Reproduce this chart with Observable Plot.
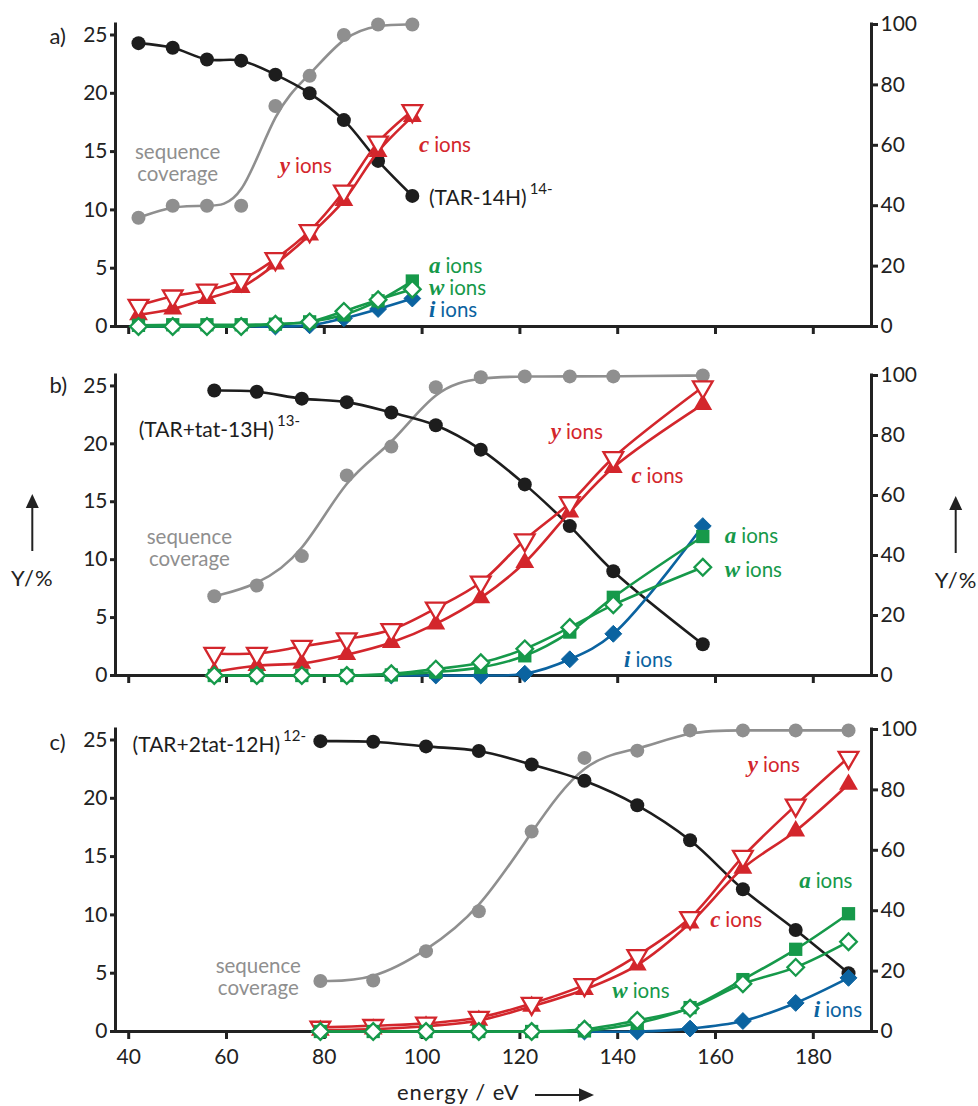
<!DOCTYPE html>
<html><head><meta charset="utf-8">
<script src="https://cdn.jsdelivr.net/npm/d3@7"></script>
<script src="https://cdn.jsdelivr.net/npm/@observablehq/plot@0.6"></script>
<style>
html,body{margin:0;padding:0;background:#fff;overflow:hidden}
#wrap{position:relative;width:978px;height:1106px;font-family:Lato,sans-serif;color:#222}
.panel{position:absolute;left:0}
#ov{position:absolute;left:0;top:0;pointer-events:none}
#ov text{font-family:Lato,sans-serif;font-size:22px;fill:#222}
</style></head><body>
<div id="wrap">
<div class="panel" id="pa" style="top:0"></div>
<div class="panel" id="pb" style="top:350px"></div>
<div class="panel" id="pc" style="top:700px"></div>
<svg id="ov" width="978" height="1106">
  <line x1="32.3" y1="551" x2="32.3" y2="505" stroke="#222" stroke-width="2"/>
  <polygon points="32.3,494 25.8,508 38.8,508" fill="#222"/>
  <text x="32.3" y="586" text-anchor="middle" letter-spacing="1">Y/%</text>
  <line x1="955.7" y1="553" x2="955.7" y2="507" stroke="#222" stroke-width="2"/>
  <polygon points="955.7,496 949.2,510 962.2,510" fill="#222"/>
  <text x="956" y="588" text-anchor="middle" letter-spacing="1">Y/%</text>
  <text x="397" y="1100" text-anchor="start" letter-spacing="1">energy / eV</text>
  <line x1="535" y1="1095" x2="582" y2="1095" stroke="#222" stroke-width="2"/>
  <polygon points="594,1095 579,1088.3 579,1101.7" fill="#222"/>
</svg>
</div>
<script>
// ---------- tick labels ----------
const xTicks = [40, 60, 80, 100, 120, 140, 160, 180];
const leftTicks = [0, 5, 10, 15, 20, 25];
const rightTicks = [0, 20, 40, 60, 80, 100];

// ---------- panel a: (TAR-14H)14- ----------
const energyA    = [42, 49, 56, 63, 70, 77, 84, 91, 98];
const precursorA = [24.3, 23.9, 22.9, 22.8, 21.6, 20.0, 17.7, 14.2, 11.2];
const coverageA  = [36, 40, 40, 40, 73, 83, 96.5, 100, 100];
const yIonsA     = [1.8, 2.6, 3.1, 4.0, 5.8, 8.2, 11.6, 15.8, 18.5];
const cIonsA     = [1.0, 1.5, 2.4, 3.35, 5.35, 7.85, 10.8, 15.0, 18.0];
const aIonsA     = [0.1, 0.15, 0.15, 0.15, 0.2, 0.4, 1.0, 2.2, 3.9];
const wIonsA     = [0, 0, 0, 0, 0.2, 0.4, 1.3, 2.3, 3.2];
const iIonsA     = [0, 0, 0, 0, 0, 0.1, 0.7, 1.5, 2.4];

// ---------- panel b: (TAR+tat-13H)13- ----------
const energyB    = [57.5, 66.2, 75.4, 84.6, 93.7, 102.8, 112, 121, 130.2, 139.1, 157.4];
const precursorB = [24.6, 24.5, 23.9, 23.6, 22.7, 21.6, 19.5, 16.5, 12.9, 9.0, 2.7];
const coverageB  = [26.4, 30, 39.8, 66.7, 76.3, 96.1, 99.4, 99.7, 99.7, 99.7, 100];
const yIonsB     = [1.9, 1.9, 2.5, 3.15, 3.95, 5.8, 8.05, 11.7, 14.9, 18.8, 24.9];
const cIonsB     = [0.3, 0.85, 1.05, 1.8, 2.85, 4.45, 6.7, 9.75, 14.1, 17.95, 23.4];
const aIonsB     = [0, 0, 0, 0, 0.05, 0.3, 0.7, 1.7, 3.75, 6.75, 12.0];
const wIonsB     = [0, 0, 0, 0, 0.15, 0.55, 1.1, 2.3, 4.15, 6.1, 9.35];
const iIonsB     = [null, null, null, null, 0, 0, 0, 0.15, 1.4, 3.6, 12.9];

// ---------- panel c: (TAR+2tat-12H)12- ----------
const energyC    = [79.2, 90, 100.8, 111.6, 122.4, 133.2, 144, 154.8, 165.6, 176.4, 187.2];
const precursorC = [24.9, 24.85, 24.45, 24.05, 22.9, 21.5, 19.4, 16.4, 12.2, 8.7, 5.0];
const coverageC  = [16.7, 16.9, 26.6, 39.8, 66.2, 90.6, 93.0, 99.7, 99.7, 99.7, 99.7];
const yIonsC     = [0.35, 0.5, 0.7, 1.2, 2.4, 4.0, 6.5, 9.75, 15.0, 19.4, 23.5];
const cIonsC     = [0.1, 0.2, 0.45, 0.95, 2.15, 3.6, 5.7, 9.3, 14.0, 17.2, 21.2];
const aIonsC     = [0, 0, 0, 0, 0, 0.05, 0.7, 2.05, 4.45, 7.05, 10.1];
const wIonsC     = [0, 0, 0, 0, 0, 0.2, 0.95, 2.0, 4.1, 5.5, 7.7];
const iIonsC     = [null, null, null, null, null, 0, 0, 0.25, 0.9, 2.45, 4.6];

// ---------- annotations (anchors in data units: eV, Y/%) ----------
const notesA = {
  letter: "a)",
  coverage: {x: 50, y: 14.0},
  precursor: {x: 101.4, y: 11.1, text: "(TAR-14H)", sup: "14-"},
  ions: [{k: "y", x: 70.9, y: 13.65}, {k: "c", x: 99.35, y: 15.45},
         {k: "a", x: 101.4, y: 5.07}, {k: "w", x: 101.4, y: 3.21}, {k: "i", x: 101.4, y: 1.35}]
};
const notesB = {
  letter: "b)",
  coverage: {x: 52.4, y: 11.0},
  precursor: {x: 42.05, y: 21.27, text: "(TAR+tat-13H)", sup: "13-"},
  ions: [{k: "y", x: 126.3, y: 20.97}, {k: "c", x: 142.8, y: 17.1},
         {k: "a", x: 161.9, y: 12.0}, {k: "w", x: 161.9, y: 9.05}, {k: "i", x: 141.3, y: 1.29}]
};
const notesC = {
  letter: "c)",
  coverage: {x: 66.5, y: 4.65},
  precursor: {x: 40.8, y: 24.63, text: "(TAR+2tat-12H)", sup: "12-"},
  ions: [{k: "y", x: 166.6, y: 22.77}, {k: "c", x: 158.9, y: 9.5},
         {k: "a", x: 177.1, y: 12.78}, {k: "w", x: 138.9, y: 3.36}, {k: "i", x: 180.1, y: 1.80}]
};

// ---------- chart ----------
const Y_TOP = 25.9;               // left axis top (Y/%)
const K = Y_TOP / 100;            // right axis (sequence coverage %) -> left units
const X_DOMAIN = [37.3, 191.9];
const COL = {gray: "#8f8f8f", black: "#1d1d1d", red: "#d3262c", green: "#16994a", blue: "#0b63a0", axis: "#222"};
const ionColor = {y: COL.red, c: COL.red, a: COL.green, w: COL.green, i: COL.blue};

function rows(energy, values, scale = 1) {
  return energy.map((e, i) => ({e, v: values[i] == null ? null : values[i] * scale})).filter(d => d.v != null);
}
const ctx = document.createElement("canvas").getContext("2d");
function textWidth(str, font) { ctx.font = font; return ctx.measureText(str).width; }

function ionLabel(lab) {
  const color = ionColor[lab.k];
  const w = textWidth(lab.k, "italic bold 23px 'Liberation Serif'");
  return [
    Plot.text([lab], {x: "x", y: "y", text: d => d.k, fontFamily: "Liberation Serif", fontWeight: "bold",
      fontStyle: "italic", fontSize: 23, fill: color, textAnchor: "start", lineAnchor: "bottom", dy: 6}),
    Plot.text([lab], {x: "x", y: "y", text: () => "ions", fontFamily: "Lato", fontSize: 20.5, fill: color,
      textAnchor: "start", lineAnchor: "bottom", dx: w + 5, dy: 6})
  ];
}

function panel(d, notes, opts) {
  const cov = rows(d.energy, d.coverage, K);
  const pre = rows(d.energy, d.precursor);
  const yI = rows(d.energy, d.y), cI = rows(d.energy, d.c);
  const aI = rows(d.energy, d.a), wI = rows(d.energy, d.w), iI = rows(d.energy, d.i);
  const line = (data, stroke, curve = "catmull-rom") =>
    Plot.line(data, {x: "e", y: "v", stroke, strokeWidth: 2.6, curve});
  const pw = textWidth(notes.precursor.text, "21px Lato");
  const marks = [
    Plot.ruleY([0], {stroke: COL.axis, strokeWidth: 3, strokeLinecap: "square"}),
    Plot.ruleX([X_DOMAIN[0]], {stroke: COL.axis, strokeWidth: 3, strokeLinecap: "square"}),
    Plot.ruleX([X_DOMAIN[1]], {stroke: COL.axis, strokeWidth: 3, strokeLinecap: "square"}),
    Plot.axisX(xTicks, {tickSize: 8, tickPadding: 10, strokeWidth: 3, fontSize: 21, label: null,
      tickFormat: opts.xLabels ? (v => String(v)) : (() => "")}),
    Plot.axisY(leftTicks, {anchor: "left", tickSize: 5, tickPadding: 3, strokeWidth: 3, fontSize: 21, label: null}),
    Plot.axisY(rightTicks.map(v => v * K), {anchor: "right", tickSize: 6, tickPadding: 3, strokeWidth: 3,
      fontSize: 21, label: null, tickFormat: v => String(Math.round(v / K))}),
    // sequence coverage (right axis)
    line(cov, COL.gray, "basis"),
    Plot.dot(cov, {x: "e", y: "v", r: 7, fill: COL.gray}),
    // precursor
    line(pre, COL.black),
    Plot.dot(pre, {x: "e", y: "v", r: 7, fill: COL.black}),
    // c and y ions
    line(cI, COL.red),
    Plot.dot(cI, {x: "e", y: "v", symbol: "triangle", r: 7, fill: COL.red}),
    line(yI, COL.red),
    Plot.dot(yI, {x: "e", y: "v", symbol: "triangle", rotate: 180, r: 7.3, fill: "white", stroke: COL.red, strokeWidth: 2.3}),
    // i ions
    line(iI, COL.blue),
    Plot.dot(iI, {x: "e", y: "v", symbol: "diamond2", r: 7.6, fill: COL.blue, stroke: COL.blue, strokeWidth: 1}),
    // a and w ions
    line(aI, COL.green),
    Plot.dot(aI, {x: "e", y: "v", symbol: "square", r: 7.5, fill: COL.green}),
    line(wI, COL.green),
    Plot.dot(wI, {x: "e", y: "v", symbol: "diamond2", r: 7.5, fill: "white", stroke: COL.green, strokeWidth: 2.3}),
    // annotations
    Plot.text([notes.letter], {frameAnchor: "top-left", dx: -66, dy: opts.letterDy, textAnchor: "start",
      lineAnchor: "middle", fontSize: 22, fontFamily: "Lato", fill: COL.axis}),
    Plot.text([notes.coverage], {x: "x", y: "y", text: () => "sequence\ncoverage", textAnchor: "middle",
      lineAnchor: "middle", lineHeight: 1.05, fontSize: 20.5, fontFamily: "Lato", fill: COL.gray}),
    Plot.text([notes.precursor], {x: "x", y: "y", text: "text", textAnchor: "start", lineAnchor: "bottom",
      dy: 7.5, fontSize: 21, fontFamily: "Lato", fill: COL.black}),
    Plot.text([notes.precursor], {x: "x", y: "y", text: "sup", textAnchor: "start", lineAnchor: "bottom",
      dx: pw + 3, dy: -3.5, fontSize: 15, fontFamily: "Lato", fill: COL.black}),
    ...notes.ions.flatMap(ionLabel)
  ];
  return Plot.plot({
    width: 978, height: opts.height,
    marginLeft: 115, marginRight: 107, marginTop: opts.marginTop, marginBottom: opts.marginBottom,
    x: {domain: X_DOMAIN}, y: {domain: [0, Y_TOP]},
    style: {fontFamily: "Lato, sans-serif", fontSize: "21px", color: COL.axis, background: "transparent", overflow: "visible"},
    marks
  });
}

document.getElementById("pa").append(panel(
  {energy: energyA, precursor: precursorA, coverage: coverageA, y: yIonsA, c: cIonsA, a: aIonsA, w: wIonsA, i: iIonsA},
  notesA, {height: 350, marginTop: 24, marginBottom: 24, xLabels: false, letterDy: 12}));
document.getElementById("pb").append(panel(
  {energy: energyB, precursor: precursorB, coverage: coverageB, y: yIonsB, c: cIonsB, a: aIonsB, w: wIonsB, i: iIonsB},
  notesB, {height: 350, marginTop: 25, marginBottom: 25, xLabels: false, letterDy: 10}));
document.getElementById("pc").append(panel(
  {energy: energyC, precursor: precursorC, coverage: coverageC, y: yIonsC, c: cIonsC, a: aIonsC, w: wIonsC, i: iIonsC},
  notesC, {height: 406, marginTop: 29, marginBottom: 75, xLabels: true, letterDy: 13}));
</script>
</body></html>
